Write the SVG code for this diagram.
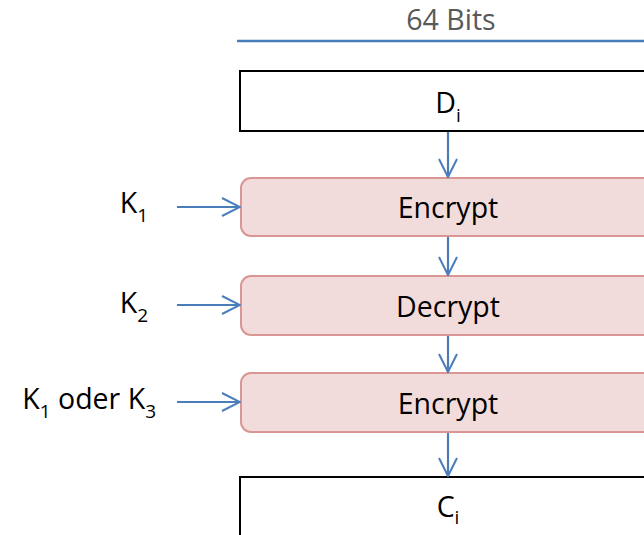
<svg xmlns="http://www.w3.org/2000/svg" width="644" height="535" viewBox="0 0 644 535">
  <defs>
    <marker id="chev" viewBox="0 0 20 20" refX="19" refY="10" markerWidth="20" markerHeight="20" markerUnits="userSpaceOnUse" orient="auto">
      <path d="M1,1 L19,10 L1,19" fill="none" stroke="#4a7ebb" stroke-width="2"/>
    </marker>
  </defs>
  <style>
    text { font-family: "Open Sans", "Liberation Sans", sans-serif; font-size: 28.5px; fill: #000; }
    .lbl { fill: #595959; }
    .sub { font-size: 19px; }
    .block { fill: #fff; stroke: #000; stroke-width: 2; }
    .stage { fill: #f2dcdb; stroke: #d99694; stroke-width: 2; }
    .conn { stroke: #4a7ebb; stroke-width: 2.2; fill: none; marker-end: url(#chev); }
  </style>
  <rect width="644" height="535" fill="#fff"/>

  <!-- width indicator -->
  <g id="width">
    <text class="lbl" x="451" y="30" text-anchor="middle">64 Bits</text>
    <line x1="237" y1="41" x2="644" y2="41" stroke="#4a7ebb" stroke-width="2.5"/>
  </g>

  <g id="plain">
    <rect class="block" x="240" y="71" width="440" height="60"/>
    <text x="448" y="113" text-anchor="middle">D<tspan class="sub" dy="9">i</tspan></text>
  </g>

  <g id="enc1">
    <rect class="stage" x="241" y="178" width="460" height="58" rx="10"/>
    <text x="448" y="218" text-anchor="middle">Encrypt</text>
  </g>

  <g id="dec">
    <rect class="stage" x="241" y="276" width="460" height="59" rx="10"/>
    <text x="448" y="317" text-anchor="middle">Decrypt</text>
  </g>

  <g id="enc2">
    <rect class="stage" x="241" y="373" width="460" height="59" rx="10"/>
    <text x="448" y="414" text-anchor="middle">Encrypt</text>
  </g>

  <g id="cipher">
    <rect class="block" x="240" y="477" width="440" height="80"/>
    <text x="448" y="517" text-anchor="middle">C<tspan class="sub" dy="7">i</tspan></text>
  </g>

  <g id="key1">
    <text x="148" y="213" text-anchor="end">K<tspan class="sub" dy="9">1</tspan></text>
  </g>
  <g id="key2">
    <text x="148" y="313" text-anchor="end">K<tspan class="sub" dy="9">2</tspan></text>
  </g>
  <g id="key3">
    <text x="156" y="409" text-anchor="end">K<tspan class="sub" dy="9">1</tspan><tspan dy="-9"> oder K</tspan><tspan class="sub" dy="9">3</tspan></text>
  </g>

  <g id="connectors">
    <line class="conn" x1="448" y1="132" x2="448" y2="177"/>
    <line class="conn" x1="448" y1="237" x2="448" y2="275"/>
    <line class="conn" x1="448" y1="336" x2="448" y2="372"/>
    <line class="conn" x1="448" y1="433" x2="448" y2="476"/>
    <line class="conn" x1="177" y1="207" x2="240" y2="207"/>
    <line class="conn" x1="177" y1="305" x2="240" y2="305"/>
    <line class="conn" x1="177" y1="402" x2="240" y2="402"/>
  </g>
</svg>
